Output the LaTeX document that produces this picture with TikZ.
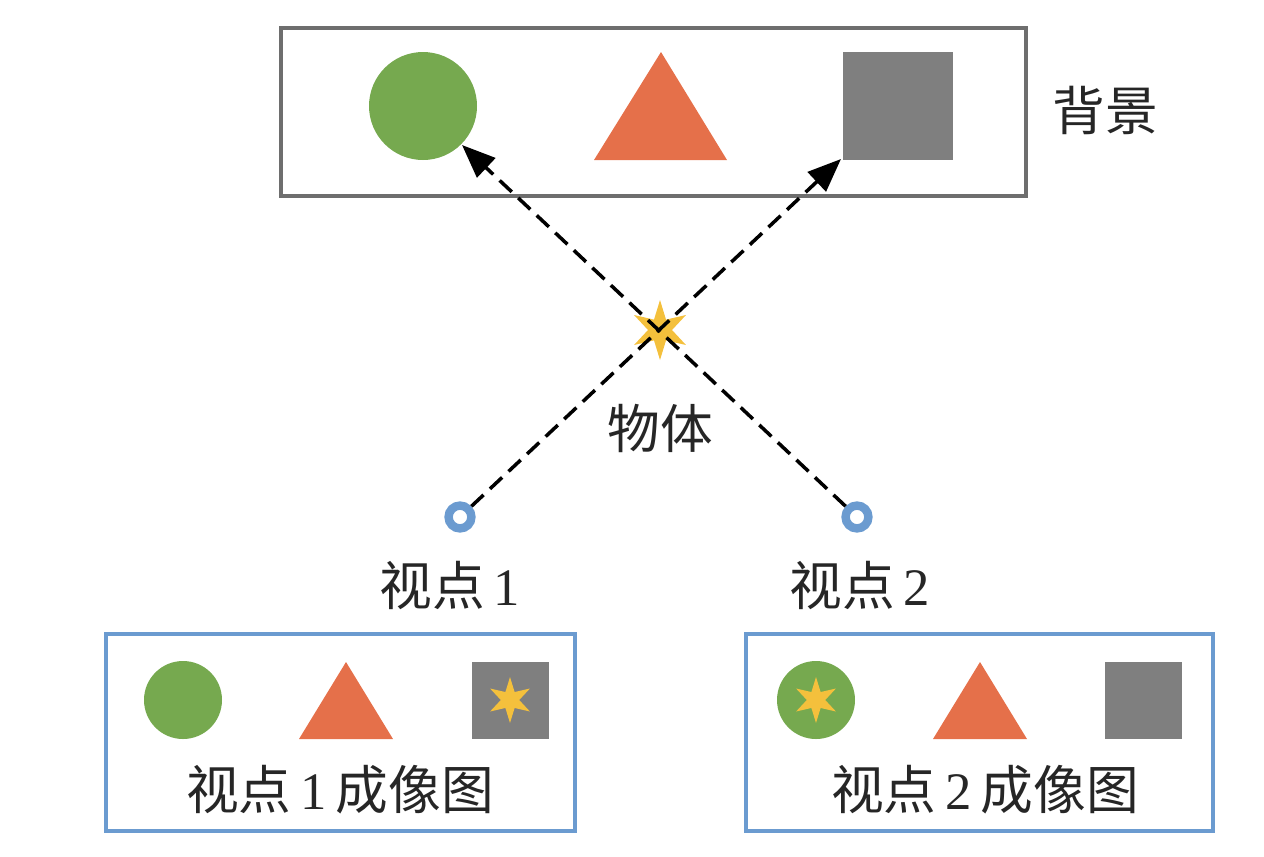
\documentclass[tikz,border=0pt]{standalone}
\usepackage{fontspec}
\setmainfont{Liberation Serif}
\newfontfamily\cjk{Noto Sans CJK SC}
\usetikzlibrary{arrows.meta,shapes.geometric}
\definecolor{cgreen}{HTML}{76A94F}
\definecolor{corange}{HTML}{E5704A}
\definecolor{cgray}{HTML}{7F7F7F}
\definecolor{cbord}{HTML}{6E6E6E}
\definecolor{cyellow}{HTML}{F4C03C}
\definecolor{cblue}{HTML}{6B9BD0}
\tikzset{
  lbl/.style={font=\fontsize{30}{34}\selectfont, inner sep=0pt, text=black!85},
  starshape/.style={star, star points=6, star point ratio=2.5, fill=cyellow, draw=none, inner sep=0pt},
  ray/.style={draw=black, line width=2pt, dash pattern=on 9.5pt off 5pt, -{Triangle[length=19pt,width=15pt]}},
  vp/.style={circle, draw=cblue, fill=white, line width=4.8pt, minimum size=13pt, inner sep=0pt},
  imgbox/.style={draw=cblue, line width=2pt},
}
\begin{document}
\begin{tikzpicture}[x=0.02cm, y=-0.02cm]
\useasboundingbox (0,0) rectangle (1264,856);
% background box
\draw[cbord, line width=2.2pt] (281,28) rectangle (1026,196);
\node[circle, fill=cgreen, minimum size=108*0.02cm, inner sep=0pt] (bgc) at (423,106) {};
\fill[corange] (594,160) -- (727,160) -- (661,52) -- cycle;
\node[rectangle, fill=cgray, minimum width=110*0.02cm, minimum height=108*0.02cm, inner sep=0pt] (bgs) at (898,106) {};
\node[lbl] (bglbl) at (1105,110) {\cjk 背景};
% object
\node[starshape, minimum size=60*0.02cm] (obj) at (660,330) {};
\node[lbl] (objlbl) at (660,428) {\cjk 物体};
% viewpoints
\node[vp] (v1) at (460,517) {};
\node[vp] (v2) at (857,517) {};
\node[lbl] (v1lbl) at (450,585) {{\cjk 视点}\,1};
\node[lbl] (v2lbl) at (860,585) {{\cjk 视点}\,2};
% rays
\coordinate (tipc) at (462,145);
\coordinate (tips) at (841,159);
\draw[ray] (v1) -- (tips);
\draw[ray] (v2) -- (tipc);
% image 1
\draw[imgbox] (106,634) rectangle (575,831);
\node[circle, fill=cgreen, minimum size=78*0.02cm, inner sep=0pt] (c1) at (183,700) {};
\fill[corange] (299,739) -- (393,739) -- (346,662) -- cycle;
\node[rectangle, fill=cgray, minimum width=77*0.02cm, minimum height=77*0.02cm, inner sep=0pt] (s1) at (510,700) {};
\node[starshape, minimum size=46*0.02cm] (st1) at (510,700) {};
\node[lbl] (i1lbl) at (340,790) {{\cjk 视点}\,1\,{\cjk 成像图}};
% image 2
\draw[imgbox] (746,634) rectangle (1213,831);
\node[circle, fill=cgreen, minimum size=78*0.02cm, inner sep=0pt] (c2) at (816,700) {};
\node[starshape, minimum size=46*0.02cm] (st2) at (816,700) {};
\fill[corange] (933,739) -- (1027,739) -- (980,662) -- cycle;
\node[rectangle, fill=cgray, minimum width=77*0.02cm, minimum height=77*0.02cm, inner sep=0pt] (s2) at (1143,700) {};
\node[lbl] (i2lbl) at (985,790) {{\cjk 视点}\,2\,{\cjk 成像图}};
\end{tikzpicture}
\end{document}
